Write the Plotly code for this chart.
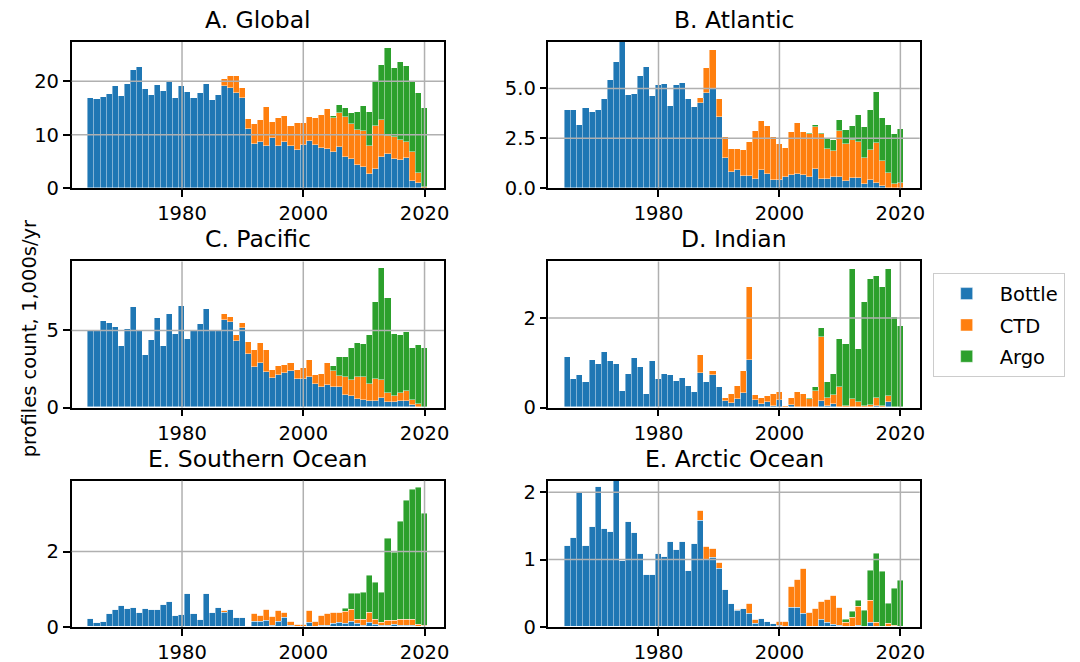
import plotly.graph_objects as go

years = list(range(1965, 2021))

# ---------------- A. Global ----------------
global_bottle = [16.8, 16.6, 17.1, 17.5, 19.1, 17.2, 19.4, 22.1, 22.7, 18.5,
                 17.4, 19.3, 18.1, 19.8, 16.8, 19.1, 18.0, 16.9, 17.7, 19.4,
                 16.4, 17.4, 19.1, 18.8, 17.8, 16.9, 11.0, 8.2, 8.6, 7.9,
                 9.3, 7.8, 8.7, 7.8, 7.1, 8.1, 8.9, 8.1, 7.5, 7.4,
                 6.8, 7.7, 5.9, 5.4, 4.4, 3.9, 2.6, 3.6, 5.8, 6.3,
                 5.5, 5.3, 5.6, 1.4, 0.9, 0.1]
global_ctd = [0] * 22 + [1.3, 2.1, 3.1, 1.9,
                         2.0, 3.7, 4.1, 7.2, 3.1, 5.4, 4.7, 3.8, 5.0, 4.1,
                         4.4, 5.0, 6.2, 7.3, 6.3, 6.4, 7.35, 6.6, 6.4, 6.7,
                         5.2, 8.1, 6.9, 3.5, 4.1, 3.7, 3.1, 5.3, 2.0, 0.2]
global_argo = [0] * 40 + [0.4, 1.4, 1.75, 2.0, 3.45, 4.7,
                          6.4, 8.2, 10.4, 16.3, 12.8, 14.6, 14.1, 13.2, 14.8, 14.6]

# ---------------- B. Atlantic ----------------
atl_bottle = [3.94, 3.91, 3.19, 4.04, 3.84, 3.94, 4.48, 5.42, 6.34, 7.6,
              4.66, 4.70, 5.62, 6.06, 4.63, 5.17, 5.20, 4.13, 5.17, 5.25,
              4.45, 4.08, 4.28, 4.78, 4.95, 3.57, 1.53, 0.8, 0.89, 0.59,
              0.59, 0.47, 0.91, 0.72, 0.42, 0.42, 0.55, 0.68, 0.72, 0.65,
              0.56, 0.96, 0.47, 0.47, 0.54, 0.56, 0.37, 0.5, 0.5, 0.22,
              0.4, 0.25, 0.1, 0, 0, 0]
atl_ctd = [0] * 22 + [0.22, 1.22, 1.98, 0.88,
                      1.04, 1.18, 1.06, 1.31, 1.73, 2.4, 2.45, 2.4, 2.13, 1.78,
                      1.45, 2.14, 2.55, 2.17, 2.14, 2.1, 2.23, 1.51, 1.32, 2.31,
                      1.83, 1.9, 1.8, 1.28, 1.5, 2.0, 1.25, 0.78, 0.22, 0.25]
atl_argo = [0] * 40 + [0.07, 0.11, 0.07, 0.47, 0.56, 0.55,
                       0.7, 0.72, 1.38, 1.55, 2.0, 2.55, 2.15, 2.37, 2.48, 2.71]

# ---------------- C. Pacific ----------------
pac_bottle = [4.94, 4.94, 5.6, 5.48, 5.2, 3.96, 5.06, 6.47, 4.94, 3.38,
              4.39, 5.76, 3.96, 6.04, 4.76, 6.58, 4.42, 4.94, 5.39, 6.36,
              4.94, 4.94, 5.65, 5.54, 4.31, 5.15, 3.48, 2.6, 2.84, 2.29,
              1.9, 2.08, 2.25, 2.32, 1.8, 1.84, 1.93, 1.52, 1.3, 1.45,
              1.3, 1.28, 0.78, 0.76, 0.54, 0.45, 0.41, 0.41, 0.63, 0.32,
              0.32, 0.41, 0.41, 0.15, 0, 0]
pac_ctd = [0] * 22 + [0.37, 0.33, 0.37, 0.28,
                      0.72, 1.1, 1.32, 1.43, 0.5, 0.58, 0.52, 0.52, 0.62, 0.69,
                      1.14, 0.54, 0.84, 1.39, 1.02, 0.75, 1.21, 0.99, 1.43, 1.54,
                      1.08, 1.43, 1.14, 0.59, 0.44, 0.54, 0.65, 0.33, 0.22, 0.0]
pac_argo = [0] * 40 + [0.36, 1.22, 1.28, 2.08, 2.19, 2.12,
                       3.21, 4.96, 7.23, 6.19, 4.0, 3.75, 3.84, 3.35, 3.83, 3.83]

# ---------------- D. Indian ----------------
ind_bottle = [1.12, 0.62, 0.71, 0.57, 1.06, 0.97, 1.23, 1.03, 0.97, 0.36,
              0.73, 1.1, 0.9, 0.3, 1.04, 0.62, 0.73, 0.71, 0.59, 0.66,
              0.47, 0.33, 0.76, 0.57, 0.72, 0.45, 0.14, 0.1, 0.19, 0.31,
              1.06, 0.15, 0.07, 0.11, 0.02, 0.16, 0, 0.05, 0, 0,
              0, 0, 0.14, 0.03, 0.08, 0, 0, 0, 0, 0,
              0, 0.03, 0, 0.11, 0, 0]
ind_ctd = [0] * 22 + [0.41, 0.0, 0.08, 0.0,
                      0.06, 0.2, 0.28, 0.49, 1.61, 0.13, 0.13, 0.14, 0.28, 0.17,
                      0.03, 0.16, 0.35, 0.3, 0.18, 0.37, 1.42, 0.17, 0.2, 0.44,
                      0.02, 0.19, 0.11, 0.02, 0.04, 0.18, 0.03, 0.14, 0.0, 0.0]
ind_argo = [0] * 40 + [0.02, 0.09, 0.21, 0.36, 0.46, 1.07,
                       1.38, 2.9, 1.19, 2.33, 2.81, 2.72, 2.64, 2.83, 2.02, 1.82]

# ---------------- E. Southern Ocean ----------------
so_bottle = [0.21, 0.1, 0.14, 0.36, 0.45, 0.57, 0.49, 0.52, 0.38, 0.49,
             0.46, 0.46, 0.58, 0.67, 0.3, 0.32, 0.87, 0.34, 0.2, 0.88,
             0.38, 0.5, 0.38, 0.46, 0.24, 0.24, 0, 0.13, 0.13, 0.17,
             0.04, 0.13, 0.24, 0.04, 0, 0, 0.12, 0, 0.03, 0.03,
             0.09, 0.1, 0.08, 0.13, 0.08, 0.03, 0.1, 0.05, 0.02, 0.02,
             0.05, 0.02, 0.02, 0.03, 0, 0]
so_ctd = [0] * 22 + [0.05, 0, 0, 0,
                     0, 0.21, 0.16, 0.29, 0.22, 0.29, 0.15, 0.1, 0.07, 0.07,
                     0.31, 0.14, 0.27, 0.31, 0.29, 0.27, 0.33, 0.32, 0.12, 0.17,
                     0.29, 0.15, 0.1, 0.14, 0.11, 0.16, 0.18, 0.17, 0.05, 0.02]
so_argo = [0] * 40 + [0, 0, 0.07, 0.44, 0.69, 0.71,
                      0.97, 0.97, 0.78, 2.18, 1.82, 2.62, 3.16, 3.45, 3.64, 2.98]

# ---------------- E. Arctic Ocean ----------------
arc_bottle = [1.2, 1.33, 1.99, 1.2, 1.48, 2.08, 1.46, 1.41, 2.3, 0.99,
              1.56, 1.4, 1.09, 0.78, 0.77, 1.09, 1.04, 1.27, 1.15, 1.27,
              0.84, 1.23, 1.58, 1.0, 1.03, 0.86, 0.55, 0.34, 0.24, 0.27,
              0.2, 0.05, 0.12, 0.08, 0.05, 0.02, 0, 0.28, 0.28, 0.19,
              0.01, 0.01, 0.1, 0.06, 0.04, 0.02, 0, 0, 0.02, 0,
              0.07, 0, 0, 0, 0, 0]
arc_ctd = [0] * 22 + [0.14, 0.19, 0.13, 0.09,
                      0, 0, 0.02, 0, 0.15, 0.05, 0, 0, 0, 0.06,
                      0.08, 0.32, 0.42, 0.68, 0.2, 0.26, 0.27, 0.34, 0.43, 0.26,
                      0.06, 0.14, 0.28, 0, 0.32, 0.07, 0, 0.05, 0.02, 0]
arc_argo = [0] * 40 + [0, 0, 0, 0, 0, 0,
                       0.04, 0.09, 0.09, 0.24, 0.44, 1.01, 0.82, 0.29, 0.55, 0.68]

titles = ["A. Global", "B. Atlantic", "C. Pacific", "D. Indian",
          "E. Southern Ocean", "E. Arctic Ocean"]
series_names = ["Bottle", "CTD", "Argo"]
colors = ["#1f77b4", "#ff7f0e", "#2ca02c"]
x_ticks = [1980, 2000, 2020]
y_tops = [27.3, 7.32, 9.48, 3.26, 3.88, 2.17]
y_ticks = [[0, 10, 20], [0.0, 2.5, 5.0], [0, 5], [0, 2], [0, 2], [0, 1, 2]]
y_ticktext = [["0", "10", "20"], ["0.0", "2.5", "5.0"], ["0", "5"], ["0", "2"],
              ["0", "2"], ["0", "1", "2"]]

data = [
    (global_bottle, global_ctd, global_argo),
    (atl_bottle, atl_ctd, atl_argo),
    (pac_bottle, pac_ctd, pac_argo),
    (ind_bottle, ind_ctd, ind_argo),
    (so_bottle, so_ctd, so_argo),
    (arc_bottle, arc_ctd, arc_argo),
]

W, H = 1080, 662          # reference frame used for placing things
FIG_H = 675               # rendered height (viewport capture compensates)
col_px = [(72, 446), (551, 924)]
row_px = [(42, 188), (261, 407), (480, 626)]

FONT = "DejaVu Sans, Liberation Sans, sans-serif"
TICK_SIZE = 19.5
TITLE_SIZE = 23.5
GRID = "#b0b0b0"

fig = go.Figure()
layout = {}
shapes = []
annotations = []

for k in range(6):
    r, c = divmod(k, 2)
    ax = "" if k == 0 else str(k + 1)
    xa, ya = "x" + ax, "y" + ax
    for s in range(3):
        fig.add_trace(go.Bar(
            x=years, y=data[k][s], name=series_names[s],
            marker=dict(color=colors[s], line=dict(color="rgba(255,255,255,0.55)", width=0.8)),
            width=1.0, xaxis=xa, yaxis=ya,
            legendgroup=series_names[s], showlegend=(k == 0),
        ))
    x0, x1 = col_px[c]
    y0, y1 = row_px[r]
    layout["xaxis" + ax] = dict(
        domain=[x0 / W, x1 / W], range=[1961.8, 2023.2], anchor=ya,
        tickmode="array", tickvals=x_ticks, ticks="outside", ticklen=7, tickwidth=1.5,
        tickcolor="black", showline=True, linecolor="black", linewidth=1.5, mirror=True,
        showgrid=False, zeroline=False, tickfont=dict(family=FONT, size=TICK_SIZE, color="black"),
    )
    layout["yaxis" + ax] = dict(
        domain=[1 - y1 / H, 1 - y0 / H], range=[0, y_tops[k]], anchor=xa,
        tickmode="array", tickvals=y_ticks[k], ticktext=y_ticktext[k],
        ticks="outside", ticklen=7, tickwidth=1.5, tickcolor="black",
        showline=True, linecolor="black", linewidth=1.5, mirror=True,
        showgrid=False, zeroline=False, tickfont=dict(family=FONT, size=TICK_SIZE, color="black"),
    )
    # grid lines drawn above bars (as in the reference)
    for xv in x_ticks:
        shapes.append(dict(type="line", xref=xa, yref=ya + " domain", x0=xv, x1=xv, y0=0, y1=1,
                           line=dict(color=GRID, width=1.5), layer="above"))
    for yv in y_ticks[k]:
        if yv > 0:
            shapes.append(dict(type="line", xref=xa + " domain", yref=ya, x0=0, x1=1, y0=yv, y1=yv,
                               line=dict(color=GRID, width=1.5), layer="above"))
    annotations.append(dict(
        text=titles[k], xref="paper", yref="paper", x=(x0 + x1) / 2 / W, y=1 - (y0 - 6) / H,
        xanchor="center", yanchor="bottom", showarrow=False,
        font=dict(family=FONT, size=TITLE_SIZE, color="black"),
    ))

annotations.append(dict(
    text="profiles count, 1,000s/yr", xref="paper", yref="paper", x=30 / W, y=1 - 338 / H,
    xanchor="center", yanchor="middle", textangle=-90, showarrow=False,
    font=dict(family=FONT, size=TICK_SIZE, color="black"),
))

fig.update_layout(
    **layout,
    width=W, height=FIG_H, margin=dict(l=0, r=0, t=0, b=0),
    barmode="stack", bargap=0,
    plot_bgcolor="white", paper_bgcolor="white",
    shapes=shapes, annotations=annotations,
    font=dict(family=FONT, size=TICK_SIZE, color="black"),
    legend=dict(x=937 / W, y=1 - 273 / H, xanchor="left", yanchor="top",
                bordercolor="#cccccc", borderwidth=1, bgcolor="rgba(255,255,255,0.8)",
                font=dict(family=FONT, size=TICK_SIZE, color="black"),
                traceorder="grouped", tracegroupgap=3, itemwidth=56),
)

fig.write_html(
    "out.html",
    config={"displayModeBar": False},
    post_script=(
        "document.documentElement.style.margin='0';document.documentElement.style.padding='0';"
        "document.documentElement.style.overflow='hidden';"
        "document.body.style.margin='0';document.body.style.padding='0';"
        "document.body.style.overflow='hidden';"
    ),
)
